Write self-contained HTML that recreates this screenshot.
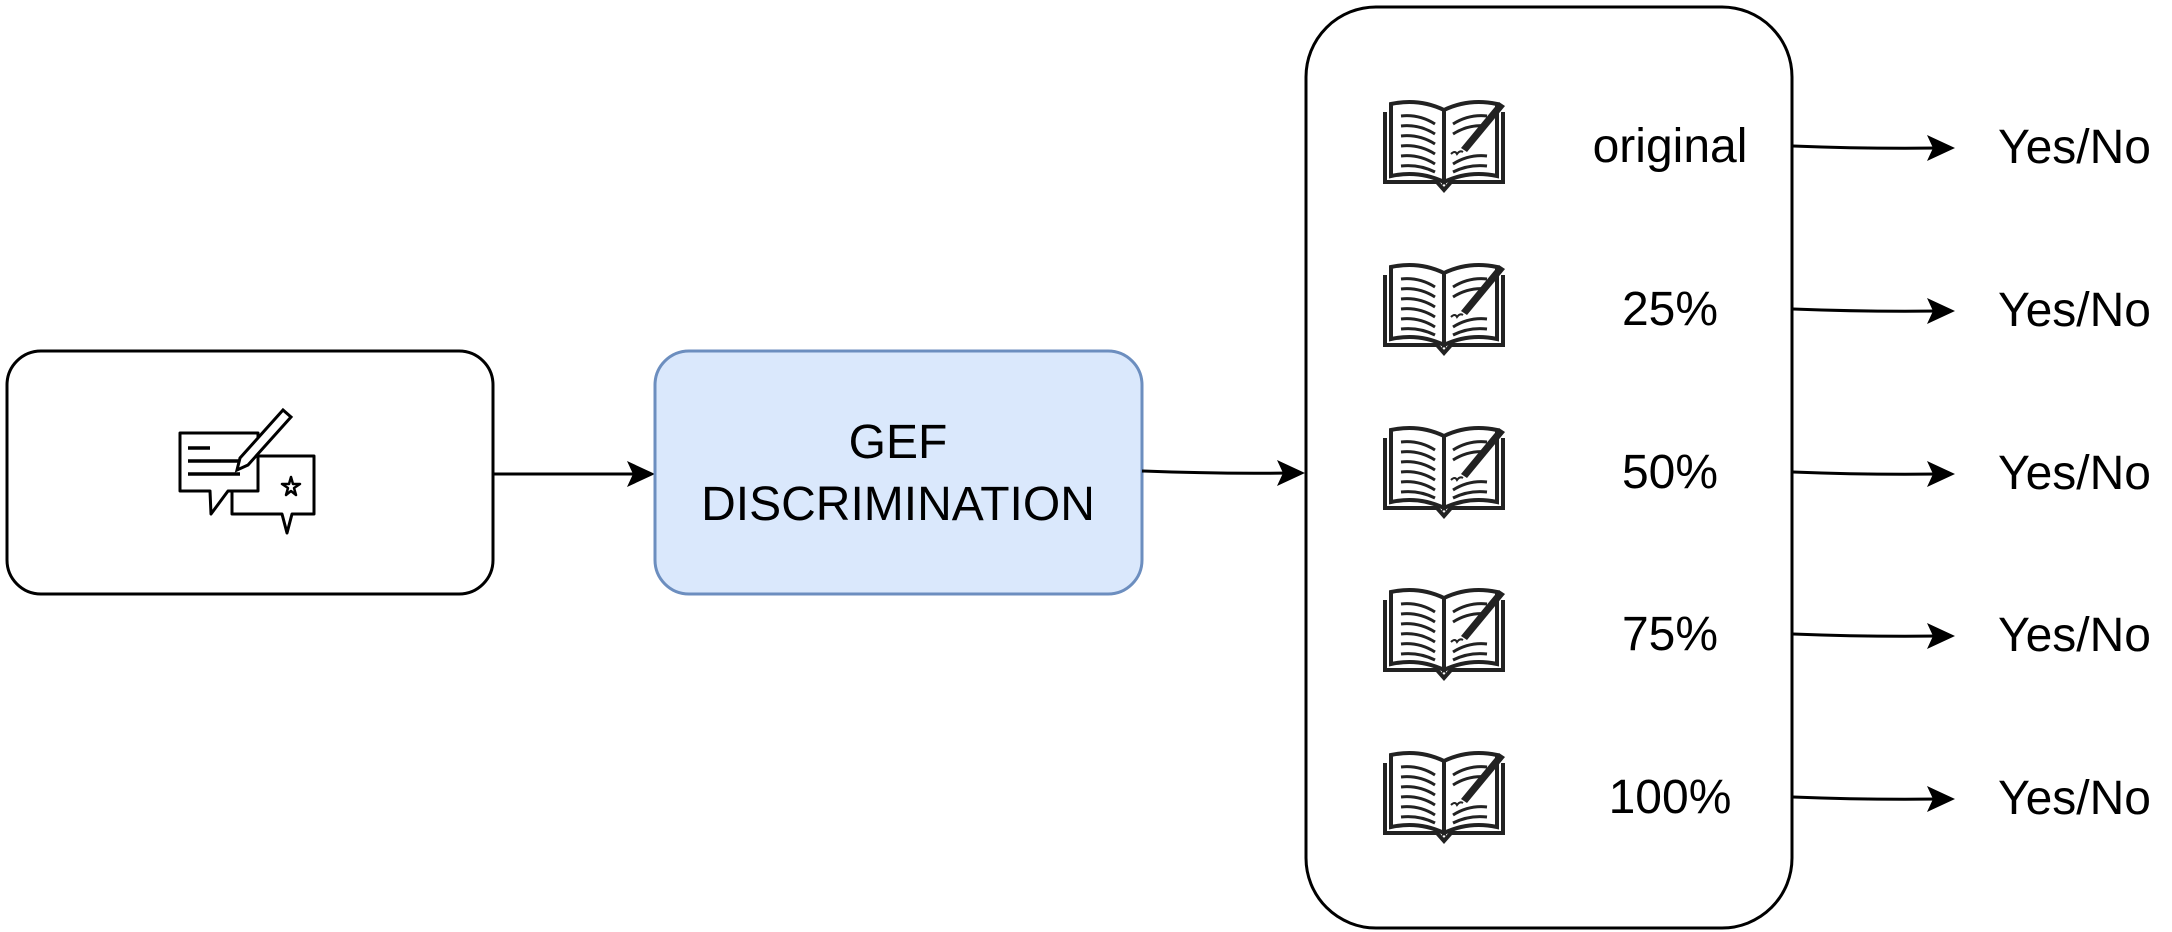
<!DOCTYPE html>
<html><head><meta charset="utf-8"><style>
html,body{margin:0;padding:0;background:#fff;}
svg{display:block;}
text{font-family:"Liberation Sans",Arial,sans-serif;font-size:48px;fill:#000;}
</style></head><body>
<svg width="2172" height="932" viewBox="0 0 2172 932">
<defs>
<g id="book">
 <path d="M4,14 L4,84 L56,84 L63,92 L70,84 L122,84 L122,14" fill="none" stroke="#222" stroke-width="4"/>
 <path d="M10,6 Q38,0 63,12 L63,84 Q38,72 10,78 Z" fill="#fff" stroke="#222" stroke-width="4"/>
 <path d="M116,6 Q88,0 63,12 L63,84 Q88,72 116,78 Z" fill="#fff" stroke="#222" stroke-width="4"/>
 <g stroke="#222" stroke-width="3" fill="none">
  <path d="M20,18 Q38,16 54,26"/><path d="M20,28 Q38,26 54,36"/><path d="M20,38 Q38,36 54,46"/><path d="M20,48 Q38,46 54,56"/><path d="M20,58 Q38,56 54,66"/><path d="M20,68 Q38,66 54,74"/>
  <path d="M106,18 Q88,16 72,26"/><path d="M106,28 Q88,26 72,36"/><path d="M106,58 Q88,56 72,66"/><path d="M106,68 Q88,66 72,74"/>
 </g>
 <path d="M80,50 L118,4 L124,8 L86,54 Z" fill="#222"/>
 <path d="M70,56 q4,-4 6,0 q3,-4 6,-2" stroke="#222" stroke-width="2" fill="none"/>
</g>
</defs>

<rect x="7" y="351" width="486" height="243" rx="34" fill="#fff" stroke="#000" stroke-width="3"/>
<g stroke="#000" stroke-width="3" fill="#fff" stroke-linejoin="round">
 <path d="M232,456 L314,456 L314,514 L292,514 L287,533 L282,514 L232,514 Z"/>
 <path d="M180,433 L258,433 L258,491 L228,491 L211,514 L210,491 L180,491 Z"/>
 <path d="M286,495 l2,-7 l-6,-4 l7,0 l2,-7 l2,7 l7,0 l-6,4 l2,7 l-5,-4 z" stroke-width="2.5"/>
</g>
<g stroke="#000" stroke-width="3.5">
 <line x1="188" y1="448" x2="210" y2="448"/>
 <line x1="188" y1="461" x2="240" y2="461"/>
 <line x1="188" y1="474" x2="240" y2="474"/>
</g>
<path d="M240,458 L283,410 L291,417 L248,465 L237,470 Z" fill="#fff" stroke="#000" stroke-width="3"/>

<line x1="493" y1="474" x2="640" y2="474" stroke="#000" stroke-width="3"/>
<path d="M655,474 L627,461 L633,474 L627,487 Z" fill="#000"/>

<rect x="655" y="351" width="487" height="243" rx="34" fill="#dae8fc" stroke="#6c8ebf" stroke-width="3"/>
<text x="898" y="458" text-anchor="middle">GEF</text>
<text x="898" y="520" text-anchor="middle">DISCRIMINATION</text>

<path d="M1142,471 Q1220,474 1290,473" stroke="#000" stroke-width="3" fill="none"/>
<path d="M1305,473 L1277,460 L1283,473 L1277,486 Z" fill="#000"/>

<rect x="1306" y="7" width="486" height="921" rx="70" fill="#fff" stroke="#000" stroke-width="3"/>

<g>
 <use href="#book" x="1381" y="98"/>
 <use href="#book" x="1381" y="261"/>
 <use href="#book" x="1381" y="424"/>
 <use href="#book" x="1381" y="586"/>
 <use href="#book" x="1381" y="749"/>
</g>
<g text-anchor="middle">
 <text x="1670" y="162">original</text>
 <text x="1670" y="325">25%</text>
 <text x="1670" y="488">50%</text>
 <text x="1670" y="650">75%</text>
 <text x="1670" y="813">100%</text>
</g>
<g stroke="#000" stroke-width="3" fill="none">
 <path d="M1793,146 Q1870,149 1940,148"/>
 <path d="M1793,309 Q1870,312 1940,311"/>
 <path d="M1793,472 Q1870,475 1940,474"/>
 <path d="M1793,634 Q1870,637 1940,636"/>
 <path d="M1793,797 Q1870,800 1940,799"/>
</g>
<g fill="#000">
 <path d="M1955,148 L1927,135 L1933,148 L1927,161 Z"/>
 <path d="M1955,311 L1927,298 L1933,311 L1927,324 Z"/>
 <path d="M1955,474 L1927,461 L1933,474 L1927,487 Z"/>
 <path d="M1955,636 L1927,623 L1933,636 L1927,649 Z"/>
 <path d="M1955,799 L1927,786 L1933,799 L1927,812 Z"/>
</g>
<g>
 <text x="1998" y="163">Yes/No</text>
 <text x="1998" y="326">Yes/No</text>
 <text x="1998" y="489">Yes/No</text>
 <text x="1998" y="651">Yes/No</text>
 <text x="1998" y="814">Yes/No</text>
</g>
</svg>
</body></html>
